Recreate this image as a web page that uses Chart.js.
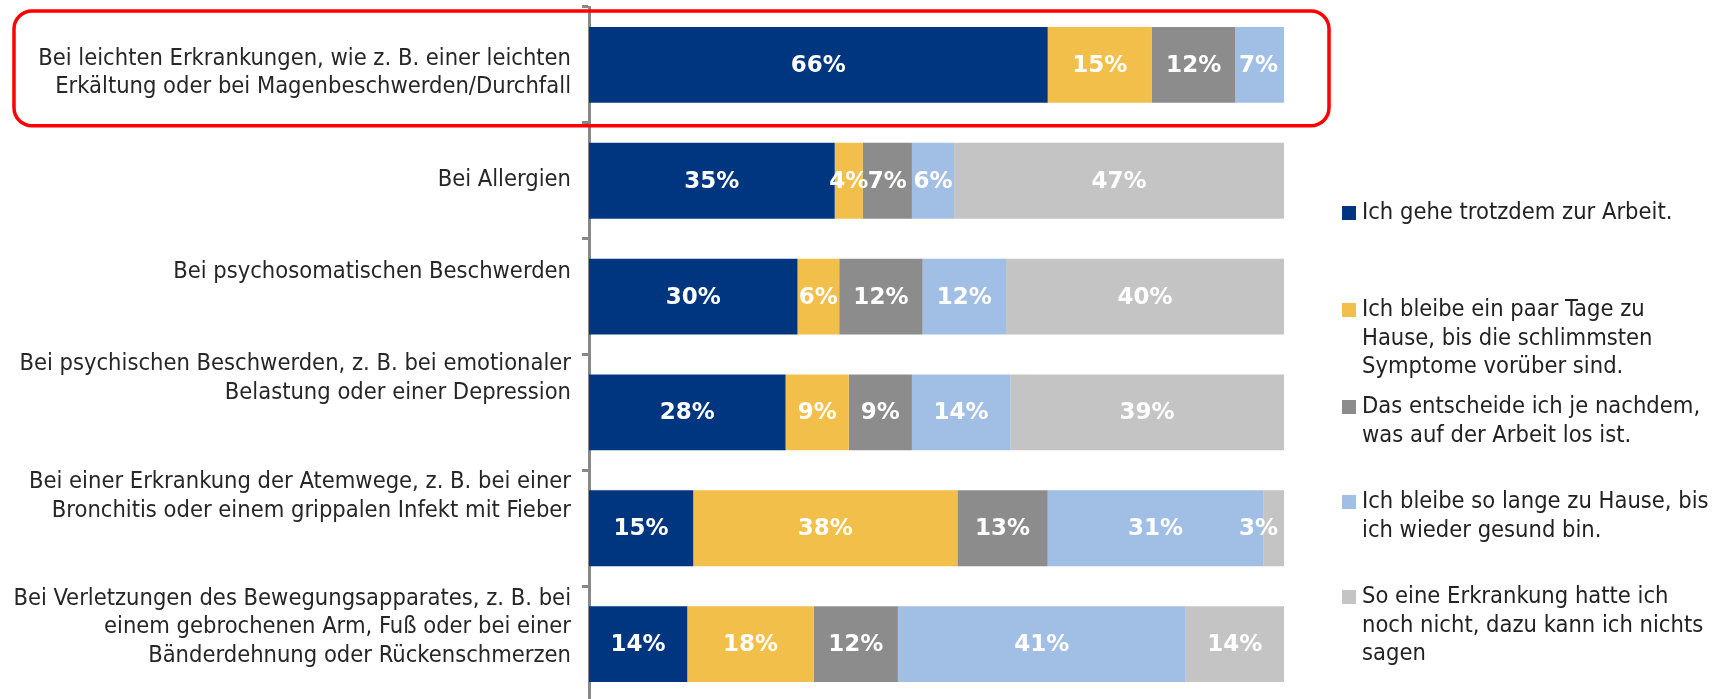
<!DOCTYPE html>
<html lang="de">
<head>
<meta charset="utf-8">
<title>Verhalten bei Erkrankungen</title>
<script src="https://cdn.jsdelivr.net/npm/chart.js@4.4.1/dist/chart.umd.min.js"></script>
<style>
    html, body { margin: 0; padding: 0; background: #fff; overflow: hidden; }
    #wrap { position: relative; width: 1724px; height: 704px; }
</style>
</head>
<body>
<div id="wrap"><canvas id="grafico"></canvas></div>
<script>
const kategorien = [
    ["Bei leichten Erkrankungen, wie z. B. einer leichten", "Erkältung oder bei Magenbeschwerden/Durchfall"],
    "Bei Allergien",
    "Bei psychosomatischen Beschwerden",
    ["Bei psychischen Beschwerden, z. B. bei emotionaler", "Belastung oder einer Depression"],
    ["Bei einer Erkrankung der Atemwege, z. B. bei einer", "Bronchitis oder einem grippalen Infekt mit Fieber"],
    ["Bei Verletzungen des Bewegungsapparates, z. B. bei", "einem gebrochenen Arm, Fuß oder bei einer", "Bänderdehnung oder Rückenschmerzen"]
];

const antworten = [
    ["Ich gehe trotzdem zur Arbeit."],
    ["Ich bleibe ein paar Tage zu", "Hause, bis die schlimmsten", "Symptome vorüber sind."],
    ["Das entscheide ich je nachdem,", "was auf der Arbeit los ist."],
    ["Ich bleibe so lange zu Hause, bis", "ich wieder gesund bin."],
    ["So eine Erkrankung hatte ich", "noch nicht, dazu kann ich nichts", "sagen"]
];

// Prozent je Antwort, in der Reihenfolge der Kategorien
const trotzdemArbeit = [66, 35, 30, 28, 15, 14];
const paarTage       = [15, 4, 6, 9, 38, 18];
const jeNachdem      = [12, 7, 12, 9, 13, 12];
const bisGesund      = [7, 6, 12, 14, 31, 41];
const keineErfahrung = [null, 47, 40, 39, 3, 14];

const farben = ["#00367F", "#F2BF4B", "#8C8C8C", "#A1BFE5", "#C4C4C4"];
const schrift = "'DejaVu Sans Condensed', 'DejaVu Sans', sans-serif";

// Excel setzt die Achsentexte nicht mittig, daher kleine Verschiebungen je Zeile
const textVersatz = [8, -1, -25, -34, -32, -17];

const werte = [trotzdemArbeit, paarTage, jeNachdem, bisGesund, keineErfahrung];
const summen = kategorien.map((_, i) => werte.reduce((s, w) => s + (w[i] || 0), 0));

// 100%-gestapelt: jeder Balken wird auf seine Zeilensumme bezogen
function anteile(reihe) {
    return reihe.map((v, i) => (v == null ? null : (v / summen[i]) * 100));
}

const versatzPlugin = {
    id: "versatz",
    afterUpdate(chart) {
        const items = chart.scales.y.getLabelItems(chart.chartArea);
        items.forEach((item, i) => {
            item.options.translation[1] += textVersatz[i] || 0;
        });
    },
};

const wertePlugin = {
    id: "werte",
    afterDatasetsDraw(chart) {
        const ctx = chart.ctx;
        const area = chart.chartArea;
        ctx.save();
        ctx.font = "bold 23px 'DejaVu Sans', sans-serif";
        ctx.fillStyle = "#fff";
        ctx.textAlign = "center";
        ctx.textBaseline = "middle";
        chart.data.datasets.forEach((ds, d) => {
            chart.getDatasetMeta(d).data.forEach((bar, i) => {
                const v = ds.prozent[i];
                if (v == null) return;
                const txt = v + "%";
                const halb = ctx.measureText(txt).width / 2;
                let x = (bar.x + bar.base) / 2;
                x = Math.min(x, area.right - 6 - halb);
                ctx.fillText(txt, x, bar.y + 1);
            });
        });
        ctx.restore();
    },
};

const legendePlugin = {
    id: "legende",
    afterDraw(chart) {
        const ctx = chart.ctx;
        const startY = [213, 310, 407, 502, 597];
        ctx.save();
        ctx.font = "23.5px " + schrift;
        ctx.textBaseline = "middle";
        ctx.textAlign = "left";
        antworten.forEach((zeilen, k) => {
            ctx.fillStyle = farben[k];
            ctx.fillRect(1342, startY[k] - 7, 14, 14);
            ctx.fillStyle = "#222";
            zeilen.forEach((z, j) => ctx.fillText(z, 1362, startY[k] + j * 28.5));
        });
        ctx.restore();
    },
};

const rahmenPlugin = {
    id: "rahmen",
    afterDraw(chart) {
        const ctx = chart.ctx;
        const area = chart.chartArea;
        const y = chart.scales.y;
        const band = (y.getPixelForValue(1) - y.getPixelForValue(0));
        const oben = y.getPixelForValue(0) - band / 2 + 4;
        ctx.save();
        ctx.strokeStyle = "#FF0000";
        ctx.lineWidth = 3.5;
        ctx.beginPath();
        ctx.roundRect(14, oben, area.right + 45 - 14, band - 1, 18);
        ctx.stroke();
        ctx.restore();
    },
};

const ctx = document.getElementById("grafico").getContext("2d");
new Chart(ctx, {
    type: "bar",
    data: {
        labels: kategorien,
        datasets: werte.map((reihe, k) => ({
            label: antworten[k].join(" "),
            data: anteile(reihe),
            prozent: reihe,
            backgroundColor: farben[k],
            borderWidth: 0,
            barPercentage: 0.655,
            categoryPercentage: 1,
        })),
    },
    options: {
        indexAxis: "y",
        responsive: true,
        maintainAspectRatio: false,
        animation: false,
        layout: { padding: { top: 7, right: 440, bottom: 2, left: 0 } },
        plugins: {
            legend: { display: false },
            tooltip: { enabled: false },
        },
        scales: {
            x: {
                stacked: true,
                min: 0,
                max: 100,
                display: false,
            },
            y: {
                stacked: true,
                afterFit(scale) {
                    scale.width = 589;
                    scale.paddingTop = 0;
                    scale.paddingBottom = 0;
                },
                border: { color: "#888", width: 3 },
                grid: {
                    offset: true,
                    drawOnChartArea: false,
                    tickLength: 7,
                    tickWidth: 3,
                    tickColor: "#888",
                },
                ticks: {
                    padding: 11,
                    color: "#262626",
                    font: { family: schrift, size: 23.5, lineHeight: 1.22 },
                },
            },
        },
    },
    plugins: [versatzPlugin, wertePlugin, legendePlugin, rahmenPlugin],
});
</script>
</body>
</html>
